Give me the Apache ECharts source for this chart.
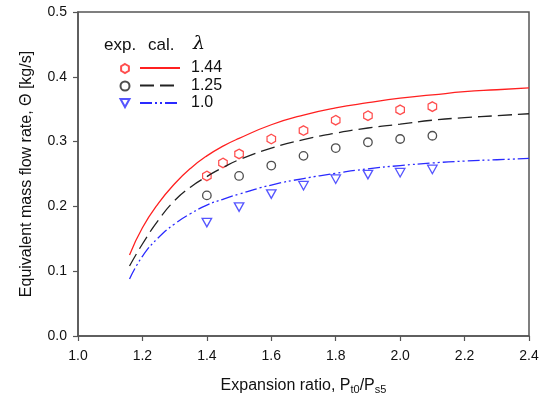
<!DOCTYPE html>
<html>
<head>
<meta charset="utf-8">
<script src="https://cdn.jsdelivr.net/npm/echarts@6/dist/echarts.min.js"></script>
<style>
  html, body { margin: 0; padding: 0; background: #fff; }
  #chart { width: 549px; height: 398px; }
</style>
</head>
<body>
<div id="chart"></div>
<script>
// measured points (exp.)
const expX144 = [1.4, 1.45, 1.5, 1.6, 1.7, 1.8, 1.9, 2.0, 2.1];
const expY144 = [0.247, 0.267, 0.281, 0.304, 0.317, 0.333, 0.340, 0.349, 0.354];
const expX125 = [1.4, 1.5, 1.6, 1.7, 1.8, 1.9, 2.0, 2.1];
const expY125 = [0.217, 0.247, 0.263, 0.278, 0.290, 0.299, 0.304, 0.309];
const expX10 = [1.4, 1.5, 1.6, 1.7, 1.8, 1.9, 2.0, 2.1];
const expY10 = [0.175, 0.199, 0.219, 0.232, 0.242, 0.249, 0.252, 0.257];

// calculated curves (cal.)
const calX = [1.16, 1.2, 1.25, 1.3, 1.35, 1.4, 1.45, 1.5, 1.6, 1.7, 1.8, 1.9, 2.0, 2.1, 2.2, 2.3, 2.4];
const calY144 = [0.125, 0.167, 0.205, 0.235, 0.259, 0.278, 0.293, 0.305, 0.326, 0.341, 0.352, 0.360, 0.367, 0.372, 0.377, 0.380, 0.383];
const calY125 = [0.108, 0.142, 0.179, 0.209, 0.230, 0.246, 0.260, 0.272, 0.290, 0.303, 0.313, 0.321, 0.327, 0.333, 0.337, 0.340, 0.343];
const calY10 = [0.088, 0.123, 0.152, 0.173, 0.189, 0.202, 0.211, 0.219, 0.233, 0.243, 0.251, 0.258, 0.263, 0.267, 0.270, 0.272, 0.274];

const lambdas = ['1.44', '1.25', '1.0'];
const colors = ['#ff2020', '#222222', '#2a2aff'];

const zip = (xs, ys) => xs.map((x, i) => [x, ys[i]]);
const hexagon = 'path://M0,-10L8.66,-5L8.66,5L0,10L-8.66,5L-8.66,-5Z';
const triDown = 'path://M-5,-4L5,-4L0,5Z';
const font = 'Liberation Sans, Arial, sans-serif';

const chart = echarts.init(document.getElementById('chart'), null, { renderer: 'canvas' });

const openMarker = (c) => ({ color: 'rgba(0,0,0,0)', borderColor: c, borderWidth: 1.3 });

const option = {
  animation: false,
  grid: {
    left: 78, right: 20, top: 12, bottom: 62,
    containLabel: false, outerBoundsMode: 'none',
    show: true, borderColor: '#555', borderWidth: 1.5
  },
  xAxis: {
    type: 'value', min: 1.0, max: 2.4, interval: 0.2,
    axisLine: { lineStyle: { color: '#555', width: 1.5 } },
    axisTick: { show: true, length: 5, lineStyle: { color: '#555', width: 1.2 } },
    splitLine: { show: false },
    axisLabel: { color: '#111', fontSize: 14, fontFamily: font, margin: 13, formatter: v => v.toFixed(1) },
    name: '{n|Expansion ratio, P}{s|t0}{n|/P}{s|s5}',
    nameLocation: 'middle', nameGap: 40,
    nameTextStyle: {
      rich: {
        n: { fontSize: 16, color: '#111', fontFamily: font },
        s: { fontSize: 11, color: '#111', fontFamily: font, verticalAlign: 'bottom', padding: [8, 0, 0, 0] }
      }
    }
  },
  yAxis: {
    type: 'value', min: 0, max: 0.5, interval: 0.1,
    axisLine: { lineStyle: { color: '#555', width: 1.5 } },
    axisTick: { show: true, length: 5, lineStyle: { color: '#555', width: 1.2 } },
    splitLine: { show: false },
    axisLabel: { color: '#111', fontSize: 14, fontFamily: font, margin: 11, formatter: v => v.toFixed(1) },
    name: 'Equivalent mass flow rate, \u0398 [kg/s]',
    nameLocation: 'middle', nameGap: 43,
    nameTextStyle: { fontSize: 16, color: '#111', fontFamily: font }
  },
  legend: [
    {
      left: 119.5, top: 63, orient: 'vertical', padding: 0, itemGap: 6.5,
      itemWidth: 9, itemHeight: 9,
      data: ['e1.44', 'e1.25', 'e1.0'],
      formatter: () => '',
      textStyle: { fontSize: 8, lineHeight: 9 }
    },
    {
      left: 139, top: 60, orient: 'vertical', padding: 0, itemGap: 1.5,
      itemWidth: 40, itemHeight: 14,
      data: lambdas,
      itemStyle: { color: 'rgba(0,0,0,0)', borderColor: 'rgba(0,0,0,0)', borderWidth: 0, opacity: 0 },
      textStyle: { fontSize: 16, lineHeight: 14, color: '#111', fontFamily: font, padding: [0, 0, 0, 6] }
    }
  ],
  graphic: [
    {
      type: 'text', left: 104, top: 37,
      style: { text: 'exp.', fontSize: 17, fill: '#111', fontFamily: font }
    },
    {
      type: 'text', left: 148, top: 37,
      style: { text: 'cal.', fontSize: 17, fill: '#111', fontFamily: font }
    },
    {
      type: 'text', left: 193, top: 35,
      style: { text: '\u03bb', fontSize: 19, fontStyle: 'italic', fill: '#111', fontFamily: 'DejaVu Serif, serif' }
    }
  ],
  series: [
    {
      name: '1.44', type: 'line', data: zip(calX, calY144), smooth: true, showSymbol: false,
      lineStyle: { color: colors[0], width: 1.3, type: 'solid' }, itemStyle: { color: colors[0] }
    },
    {
      name: '1.25', type: 'line', data: zip(calX, calY125), smooth: true, showSymbol: false,
      lineStyle: { color: colors[1], width: 1.3, type: [14, 6] }, itemStyle: { color: colors[1] }
    },
    {
      name: '1.0', type: 'line', data: zip(calX, calY10), smooth: true, showSymbol: false,
      lineStyle: { color: colors[2], width: 1.3, type: [12, 3, 2, 3, 2, 3] }, itemStyle: { color: colors[2] }
    },
    {
      name: 'e1.44', type: 'scatter', data: zip(expX144, expY144),
      symbol: hexagon, symbolSize: [8.5, 9.5], itemStyle: openMarker(colors[0])
    },
    {
      name: 'e1.25', type: 'scatter', data: zip(expX125, expY125),
      symbol: 'circle', symbolSize: 8.5, itemStyle: openMarker(colors[1])
    },
    {
      name: 'e1.0', type: 'scatter', data: zip(expX10, expY10),
      symbol: triDown, symbolSize: [9.5, 8.5], itemStyle: openMarker(colors[2])
    }
  ]
};

chart.setOption(option);
</script>
</body>
</html>
